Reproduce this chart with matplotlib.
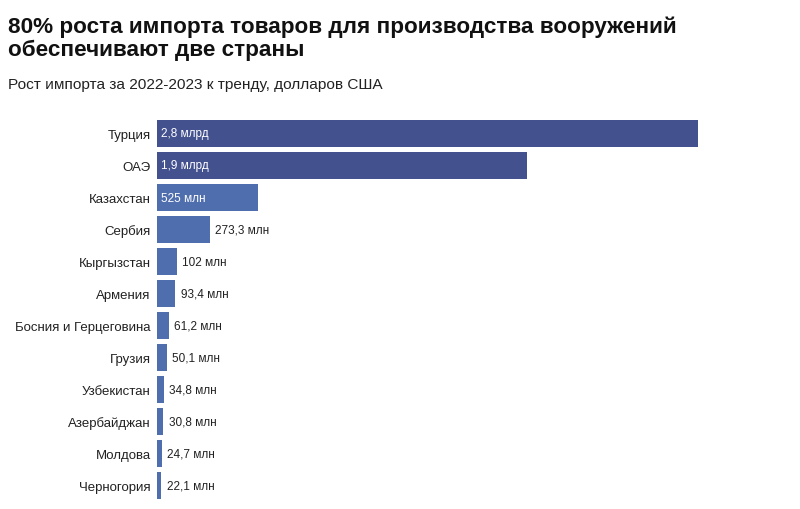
import matplotlib
matplotlib.use("Agg")
import matplotlib.pyplot as plt

plt.rcParams['font.family'] = ['Liberation Sans', 'DejaVu Sans']

countries = ['Турция', 'ОАЭ', 'Казахстан', 'Сербия', 'Кыргызстан', 'Армения',
             'Босния и Герцеговина', 'Грузия', 'Узбекистан', 'Азербайджан',
             'Молдова', 'Черногория']
values = [2800, 1915, 525, 273.3, 102, 93.4, 61.2, 50.1, 34.8, 30.8, 24.7, 22.1]  # млн долларов
value_labels = ['2,8 млрд', '1,9 млрд', '525 млн', '273,3 млн', '102 млн', '93,4 млн',
                '61,2 млн', '50,1 млн', '34,8 млн', '30,8 млн', '24,7 млн', '22,1 млн']

dark = '#43518f'
mid = '#4f6ead'
colors = [dark, dark] + [mid] * 10
inside = [True, True, True] + [False] * 9

fig = plt.figure(figsize=(8, 5.1), dpi=100)
ax = fig.add_axes([157 / 800, 7.5 / 510, (698 - 157) / 800, 384 / 510])

y = list(range(len(countries)))
ax.barh(y, values, height=0.84, color=colors, edgecolor='none')
ax.set_xlim(0, 2800)
ax.set_ylim(len(countries) - 0.5, -0.5)

for yi, v, lab, ins in zip(y, values, value_labels, inside):
    if ins:
        ax.annotate(lab, (0, yi), xytext=(3, 0), textcoords='offset points',
                    ha='left', va='center', color='white', fontsize=8.5,
                    family=['Liberation Sans Narrow', 'Liberation Sans'])
    else:
        ax.annotate(lab, (v, yi), xytext=(4, 0), textcoords='offset points',
                    ha='left', va='center', color='#222222', fontsize=8.5,
                    family=['Liberation Sans Narrow', 'Liberation Sans'])

# country names, right-aligned to the left of the bars
for yi, name in zip(y, countries):
    ax.annotate(name, (0, yi), xytext=(-4.5, -1), textcoords='offset points',
                ha='right', va='center', fontsize=9.5, color='#222222',
                annotation_clip=False)

ax.set_yticks([])
ax.set_xticks([])
for s in ax.spines.values():
    s.set_visible(False)

fig.text(8 / 800, 1 - 16 / 510, '80% роста импорта товаров для производства вооружений\n'
         'обеспечивают две страны', ha='left', va='top', fontsize=16.2,
         fontweight='bold', color='#111111', linespacing=1.15)
fig.text(8 / 800, 1 - 85 / 510, 'Рост импорта за 2022-2023 к тренду, долларов США',
         ha='left', va='center', fontsize=11.1, color='#222222')

fig.savefig('out.png', dpi=100, facecolor='white')
